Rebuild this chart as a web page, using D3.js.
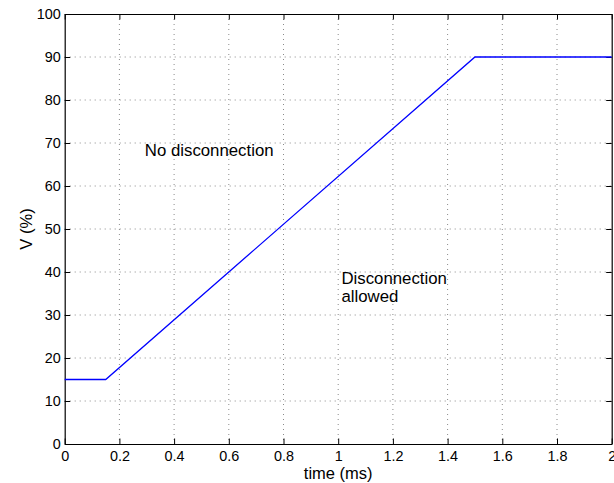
<!DOCTYPE html>
<html>
<head>
<meta charset="utf-8">
<script src="https://cdn.jsdelivr.net/npm/d3@7"></script>
<style>
	body { margin: 0; background: #fff; }
	text { font-family: "Liberation Sans", Arial, Helvetica, sans-serif; fill: #000; }
	.grid line { stroke: #8a8a8a; stroke-width: 1; stroke-dasharray: 1,4; }
</style>
</head>
<body>
<script>
// data
var timeMs = [0, 0.15, 1.5, 2];
var voltPct = [15, 15, 90, 90];
var xTicks = [0, 0.2, 0.4, 0.6, 0.8, 1, 1.2, 1.4, 1.6, 1.8, 2];
var yTicks = [0, 10, 20, 30, 40, 50, 60, 70, 80, 90, 100];
var notes = [
	{ x: 0.293, y: 67, lines: ["No disconnection"] },
	{ x: 1.012, y: 37.2, lines: ["Disconnection", "allowed"] }
];

window.onload = drawChart;

function drawChart(){

	var width = 614,
		height = 483;
	var margin = { left: 64.7, right: 2.3, top: 14, bottom: 39 };
	var innerW = width - margin.left - margin.right,
		innerH = height - margin.top - margin.bottom;

	var svg = d3.select("body")
		.append("svg")
		.attr("width", width)
		.attr("height", height);

	var g = svg.append("g")
		.attr("transform", "translate(" + margin.left + "," + margin.top + ")");

	var x = d3.scaleLinear().domain([0, 2]).range([0, innerW]);
	var y = d3.scaleLinear().domain([0, 100]).range([innerH, 0]);

	// dotted grid
	g.append("g").attr("class", "grid")
		.selectAll("line")
		.data(xTicks.slice(1, -1))
		.enter().append("line")
		.attr("x1", function(d){ return x(d); })
		.attr("x2", function(d){ return x(d); })
		.attr("y1", 0)
		.attr("y2", innerH);

	g.append("g").attr("class", "grid")
		.selectAll("line")
		.data(yTicks.slice(1, -1))
		.enter().append("line")
		.attr("y1", function(d){ return y(d); })
		.attr("y2", function(d){ return y(d); })
		.attr("x1", 0)
		.attr("x2", innerW);

	// axes with inward ticks (matlab style box)
	var tickLen = 5.5;
	var fmt = function(d){ return String(d); };

	var xAxis = g.append("g")
		.attr("transform", "translate(0," + innerH + ")")
		.call(d3.axisBottom(x).tickValues(xTicks).tickFormat(fmt).tickSizeInner(-tickLen).tickSizeOuter(0).tickPadding(7));
	var xTop = g.append("g")
		.call(d3.axisTop(x).tickValues(xTicks).tickFormat("").tickSizeInner(-tickLen).tickSizeOuter(0));
	var yAxis = g.append("g")
		.call(d3.axisLeft(y).tickValues(yTicks).tickFormat(fmt).tickSizeInner(-tickLen).tickSizeOuter(0).tickPadding(4));
	var yRight = g.append("g")
		.attr("transform", "translate(" + innerW + ",0)")
		.call(d3.axisRight(y).tickValues(yTicks).tickFormat("").tickSizeInner(-tickLen).tickSizeOuter(0));

	[xAxis, xTop, yAxis, yRight].forEach(function(a){
		a.select(".domain").attr("stroke", "#000").attr("stroke-width", 1.2);
		a.selectAll(".tick line").attr("stroke", "#000");
		a.selectAll("text").attr("font-size", 14.4).attr("font-family", null);
	});

	// blue curve
	var pts = timeMs.map(function(t, i){ return [t, voltPct[i]]; });
	var line = d3.line()
		.x(function(d){ return x(d[0]); })
		.y(function(d){ return y(d[1]); });

	g.append("path")
		.datum(pts)
		.attr("fill", "none")
		.attr("stroke", "#0000ff")
		.attr("stroke-width", 1.3)
		.attr("d", line);

	// annotations
	notes.forEach(function(n){
		var t = g.append("text")
			.attr("x", x(n.x))
			.attr("y", y(n.y))
			.attr("font-size", 16.8);
		n.lines.forEach(function(s, i){
			t.append("tspan")
				.attr("x", x(n.x))
				.attr("dy", i == 0 ? 0 : 17.5)
				.text(s);
		});
	});

	// axis labels
	svg.append("text")
		.attr("x", margin.left + innerW / 2)
		.attr("y", 478.8)
		.attr("text-anchor", "middle")
		.attr("font-size", 16.5)
		.text("time (ms)");

	svg.append("text")
		.attr("transform", "translate(31.5," + (margin.top + innerH / 2) + ") rotate(-90)")
		.attr("text-anchor", "middle")
		.attr("font-size", 16.5)
		.text("V (%)");
}
</script>
</body>
</html>
